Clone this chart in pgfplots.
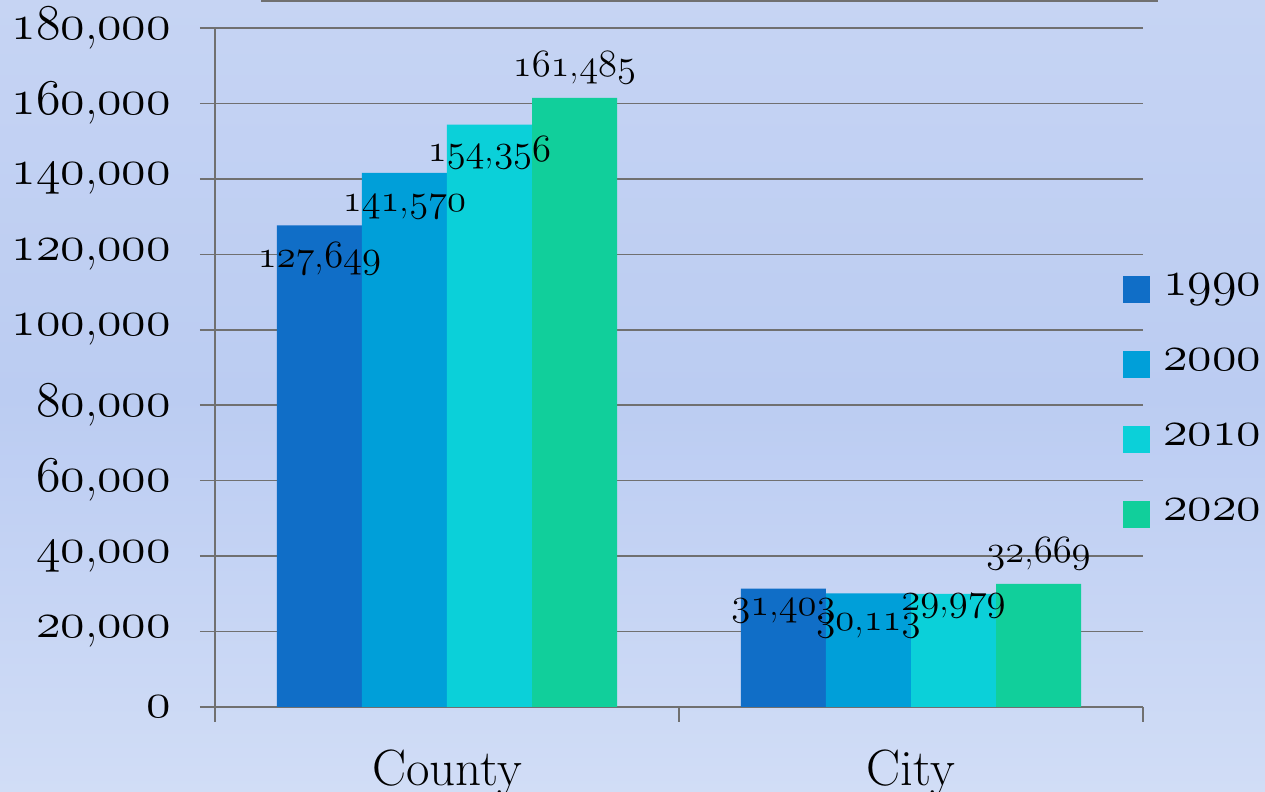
\documentclass[border=0pt]{standalone}
\usepackage{graphicx}
\usepackage{pgfplots}
\pgfplotsset{compat=1.18}
\definecolor{c1990}{RGB}{16,110,199}
\definecolor{c2000}{RGB}{0,159,217}
\definecolor{c2010}{RGB}{11,208,217}
\definecolor{c2020}{RGB}{17,207,155}
\definecolor{gridc}{RGB}{112,112,112}
\definecolor{bgtop}{RGB}{198,212,243}
\definecolor{bgmid}{RGB}{187,204,242}
\definecolor{bgbot}{RGB}{209,221,246}
\font\osfL=cmmi12 at 19.3pt
\protected\def\bigf{\fontsize{25.5}{30}\selectfont}
\protected\def\labf{\fontsize{19.3}{23}\selectfont}
\protected\def\dn#1#2{\mbox{\labf{\osfL #1},{\osfL #2}}}
\protected\def\tn#1#2{\scalebox{1.295}{\dn{#1}{#2}}}
\protected\def\gn#1{\scalebox{1.295}{\mbox{\labf\osfL #1}}}
\begin{document}
\begin{tikzpicture}
\shade[top color=bgtop, bottom color=bgbot, middle color=bgmid] (0pt,0pt) rectangle (632.5pt,396pt);
\draw[gridc, line width=0.75pt] (130.5pt,395.5pt) -- (579pt,395.5pt);
\begin{axis}[
  at={(107.5pt,42.5pt)}, anchor=south west,
  scale only axis, width=464pt, height=339.5pt,
  xmin=-0.5, xmax=1.5, ymin=0, ymax=180000,
  ybar=0pt, bar width=0.1832,
  scaled y ticks=false,
  axis lines=left, axis line style={-, draw=gridc, line width=0.75pt},
  ymajorgrids, grid style={gridc, line width=0.75pt},
  ytick={0,20000,40000,60000,80000,100000,120000,140000,160000,180000},
  yticklabels={\gn{0},\tn{20}{000},\tn{40}{000},\tn{60}{000},\tn{80}{000},\tn{100}{000},\tn{120}{000},\tn{140}{000},\tn{160}{000},\tn{180}{000}},
  yticklabel style={font=\bigf, xshift=-11pt},
  xtick={-0.5,0.5,1.5}, xticklabels={},
  extra x ticks={0,1}, extra x tick labels={County,City},
  extra x tick style={major tick length=0pt, xticklabel style={font=\bigf, yshift=-18pt}},
  tick align=outside, major tick length=7.5pt,
  tick style={gridc, line width=0.75pt},
  legend style={at={(0.9784,0.636)}, anchor=north west, draw=none, fill=none, inner sep=0pt,
    row sep=23.5pt, font=\bigf, nodes={inner sep=0pt, text height=10pt, text depth=4pt},
    /tikz/every odd column/.append style={column sep=6.5pt}},
  legend cell align=left,
  legend image code/.code={\fill[#1] (0pt,-6.75pt) rectangle (13.5pt,6.75pt);},
]
\addplot[fill=c1990, draw=none] coordinates {(0,127649) (1,31403)};
\addplot[fill=c2000, draw=none] coordinates {(0,141570) (1,30113)};
\addplot[fill=c2010, draw=none] coordinates {(0,154356) (1,29979)};
\addplot[fill=c2020, draw=none] coordinates {(0,161485) (1,32669)};
\legend{\gn{1990},\gn{2000},\gn{2010},\gn{2020}}
\node at (axis cs:-0.2748,118940) {\dn{127}{649}};
\node at (axis cs:-0.0916,132480) {\dn{141}{570}};
\node at (axis cs:0.0916,146816) {\dn{154}{356}};
\node at (axis cs:0.2748,169383) {\dn{161}{485}};
\node at (axis cs:0.7252,25487) {\dn{31}{403}};
\node at (axis cs:0.9084,21505) {\dn{30}{113}};
\node at (axis cs:1.0916,26815) {\dn{29}{979}};
\node at (axis cs:1.2748,40620) {\dn{32}{669}};
\end{axis}
\pgfresetboundingbox
\useasboundingbox (0pt,0pt) rectangle (632.5pt,396pt);
\end{tikzpicture}
\end{document}
